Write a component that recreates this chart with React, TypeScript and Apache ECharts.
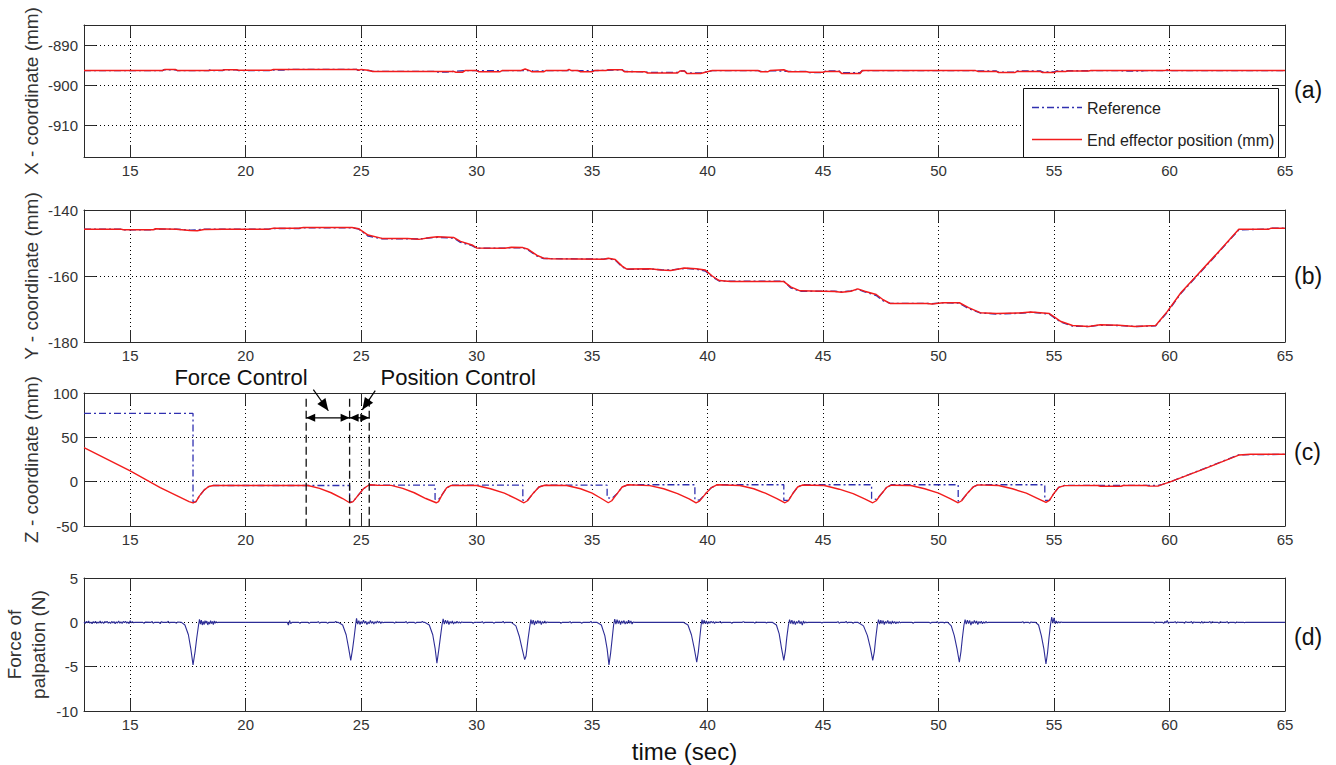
import React, { useEffect, useRef } from 'react';
import * as echarts from 'echarts';

// ---------- tick labels ----------
const xTicks = [15, 20, 25, 30, 35, 40, 45, 50, 55, 60, 65];
const aTicks = [-910, -900, -890];
const bTicks = [-180, -160, -140];
const cTicks = [-50, 0, 50, 100];
const dTicks = [-10, -5, 0, 5];

// ---------- (a) X-coordinate ----------
const xRef = [
  [13, -896.4], [16.4, -896.4], [16.45, -896.2], [16.95, -896.2], [17.05, -896.4], [18.4, -896.4], [18.45, -896.2], [18.55, -896.4],
  [19.0, -896.4], [19.05, -896.2], [19.6, -896.2], [19.7, -896.4], [21.1, -896.4], [21.15, -896.25], [21.8, -896.25], [21.85, -896.1],
  [24.8, -896.1], [24.85, -896.3], [25.0, -896.3], [25.1, -896.35], [25.4, -896.4], [25.5, -896.6], [28.2, -896.6], [28.25, -896.75],
  [28.7, -896.75], [29.0, -896.6], [29.5, -896.4], [30.0, -896.4], [30.05, -896.45], [31.0, -896.45], [31.1, -896.4], [32.4, -896.4],
  [32.45, -896.6], [33.0, -896.4], [34.4, -896.4], [34.45, -896.45], [35.0, -896.45], [35.1, -896.4], [36.3, -896.2], [36.4, -896.6],
  [37.3, -896.7], [37.4, -896.85], [38.7, -896.85], [38.8, -896.5], [39.0, -896.5], [39.1, -897.0], [39.7, -897.0], [40.2, -896.4],
  [42.2, -896.4], [42.3, -896.6], [42.6, -896.6], [42.7, -896.4], [43.5, -896.6], [44.3, -896.6], [44.4, -896.9], [45.0, -896.9],
  [45.1, -896.5], [45.7, -896.5], [45.8, -896.9], [46.6, -896.9], [46.7, -896.4], [51.6, -896.4], [51.7, -896.5], [52.5, -896.5],
  [52.6, -896.8], [53.3, -896.8], [53.4, -896.5], [54.4, -896.5], [54.5, -896.75], [55.0, -896.75], [55.1, -896.5], [55.5, -896.5],
  [55.6, -896.45], [56.5, -896.45], [56.6, -896.4], [57.9, -896.4], [58.0, -896.5], [58.8, -896.5], [58.9, -896.4], [65, -896.4],
];
const xPos = [
  [13, -896.4], [16.4, -896.4], [16.5, -896.1], [16.95, -896.1], [17.05, -896.4], [18.4, -896.4], [18.5, -896.3], [19.0, -896.3],
  [19.1, -896.2], [19.6, -896.2], [19.7, -896.3], [21.1, -896.3], [21.2, -896.1], [24.8, -896.1], [24.9, -896.3], [25.0, -896.1],
  [25.3, -896.3], [25.5, -896.6], [29.0, -896.6], [29.1, -896.8], [29.4, -896.8], [29.5, -896.4], [30.0, -896.4], [30.1, -896.7],
  [31.0, -896.7], [31.1, -896.4], [31.9, -896.4], [32.1, -896.0], [32.3, -896.4], [32.4, -896.7], [32.9, -896.7], [33.0, -896.4],
  [33.9, -896.4], [34.0, -896.1], [34.1, -896.4], [34.4, -896.4], [34.5, -896.7], [35.0, -896.7], [35.1, -896.4], [35.6, -896.4],
  [35.7, -896.2], [36.3, -896.2], [36.4, -896.7], [37.3, -896.7], [37.4, -897.0], [38.7, -897.0], [38.8, -896.5], [39.0, -896.5],
  [39.1, -897.1], [39.7, -897.1], [39.9, -896.8], [40.2, -896.4], [42.2, -896.4], [42.3, -896.7], [42.6, -896.7], [42.7, -896.4],
  [43.3, -896.2], [43.5, -896.7], [44.3, -896.7], [44.4, -896.8], [45.0, -896.8], [45.1, -896.6], [45.7, -896.6], [45.8, -897.1],
  [46.6, -897.1], [46.7, -896.4], [51.6, -896.4], [51.7, -896.6], [52.5, -896.6], [52.6, -896.9], [53.3, -896.9], [53.4, -896.6],
  [54.4, -896.6], [54.5, -896.9], [55.0, -896.9], [55.1, -896.6], [55.5, -896.6], [55.6, -896.5], [56.5, -896.5], [56.6, -896.4],
  [59.8, -896.4], [59.9, -896.2], [60.0, -896.4], [65, -896.4],
];

// ---------- (b) Y-coordinate ----------
const yRef = [
  [13, -145.8], [14.6, -145.8], [14.7, -146.0], [16.0, -146.0], [16.1, -145.8], [17.0, -145.8], [17.6, -146.1], [17.9, -146.0],
  [18.2, -145.8], [21.0, -145.8], [21.2, -145.6], [22.3, -145.6], [22.5, -145.4], [24.6, -145.4], [24.9, -145.8], [25.3, -147.9],
  [25.9, -148.7], [27.0, -148.7], [27.5, -148.8], [28.0, -148.4], [28.3, -148.3], [29.0, -148.5], [29.3, -149.8], [29.8, -150.8],
  [30.0, -151.6], [31.2, -151.6], [31.5, -151.4], [32.0, -151.5], [32.2, -152.0], [32.6, -153.9], [32.9, -154.7], [35.5, -154.9],
  [35.7, -154.7], [36.0, -155.2], [36.3, -157.2], [36.5, -158.0], [37.5, -157.9], [38.0, -158.1], [38.4, -158.2], [39.0, -157.7],
  [39.5, -157.9], [39.9, -158.5], [40.2, -160.3], [40.5, -161.5], [41.0, -161.6], [43.3, -161.6], [43.6, -163.6], [44.0, -164.6],
  [45.5, -164.6], [45.8, -164.8], [46.2, -164.5], [46.5, -164.0], [46.8, -164.8], [47.3, -165.9], [47.6, -167.5], [47.9, -168.3],
  [49.5, -168.3], [49.7, -168.4], [50.2, -168.1], [50.9, -168.2], [51.3, -169.9], [51.8, -171.2], [52.5, -171.5], [53.5, -171.3],
  [54.0, -171.0], [54.4, -171.2], [54.8, -171.6], [55.3, -174.0], [55.8, -175.2], [56.5, -175.3], [57.0, -174.9], [57.8, -175.0],
  [58.5, -175.3], [59.4, -175.1], [59.9, -171.0], [60.5, -165.2], [61.2, -159.9], [62.0, -153.8], [63.0, -146.0], [64.3, -145.8],
  [64.4, -145.5], [65, -145.5],
];
const yPos = [
  [13, -145.8], [14.6, -145.8], [14.7, -146.0], [16.0, -146.0], [16.1, -145.7], [17.0, -145.8], [17.6, -146.2], [17.9, -146.3],
  [18.2, -145.9], [19.0, -145.8], [21.0, -145.8], [21.2, -145.5], [22.3, -145.5], [22.5, -145.3], [24.6, -145.3], [24.9, -145.7],
  [25.3, -147.6], [25.9, -148.6], [27.0, -148.6], [27.5, -148.9], [28.0, -148.3], [28.3, -148.1], [29.0, -148.3], [29.3, -149.5],
  [29.8, -150.6], [30.0, -151.5], [31.2, -151.6], [31.5, -151.3], [32.0, -151.4], [32.2, -151.8], [32.6, -153.7], [32.9, -154.6],
  [33.2, -154.8], [35.5, -154.9], [35.7, -154.6], [36.0, -155.0], [36.3, -157.0], [36.5, -157.9], [37.5, -157.8], [38.0, -158.2],
  [38.4, -158.3], [39.0, -157.6], [39.5, -157.8], [39.9, -158.2], [40.2, -160.0], [40.5, -161.4], [41.0, -161.7], [43.3, -161.7],
  [43.6, -163.3], [44.0, -164.5], [45.5, -164.7], [45.8, -164.9], [46.2, -164.6], [46.5, -163.9], [46.8, -164.6], [47.3, -165.6],
  [47.6, -167.2], [47.9, -168.3], [49.5, -168.3], [49.7, -168.5], [50.2, -168.1], [50.9, -168.1], [51.3, -169.6], [51.8, -171.1],
  [52.5, -171.4], [53.5, -171.2], [54.0, -170.9], [54.4, -171.1], [54.8, -171.4], [55.3, -173.8], [55.8, -175.0], [56.5, -175.3],
  [57.0, -174.8], [57.8, -174.9], [58.5, -175.3], [59.4, -175.0], [59.9, -170.8], [60.5, -165.0], [61.2, -159.7], [62.0, -153.6],
  [63.0, -145.8], [64.3, -145.8], [64.4, -145.5], [65, -145.5],
];

// ---------- (c) Z-coordinate ----------
const zRef = [
  [13, 77], [17.72, 77], [17.72, -23.5], [17.85, -22.5], [18.0, -16], [18.2, -9.5], [18.4, -5.5], [18.6, -4.3], [24.5, -4.3],
  [24.5, -23.5], [24.65, -22.5], [24.85, -16], [25.1, -8], [25.35, -3.8], [28.2, -3.8], [28.2, -20], [28.35, -20], [28.5, -15],
  [28.7, -7], [28.9, -4], [32.0, -4], [32.0, -21], [32.2, -21], [32.45, -13], [32.7, -6], [32.95, -4], [35.65, -4], [35.65, -18],
  [35.85, -19], [36.1, -13], [36.3, -6], [36.55, -3.5], [39.45, -3.5], [39.45, -20], [39.65, -21], [39.9, -14], [40.15, -7],
  [40.4, -3.5], [43.3, -3.5], [43.3, -21], [43.5, -21], [43.7, -13], [43.9, -6], [44.1, -3.5], [47.1, -3.5], [47.1, -19],
  [47.3, -20], [47.55, -13], [47.75, -6.5], [47.95, -3.5], [50.85, -3.5], [50.85, -22], [51.0, -21], [51.25, -13], [51.5, -6],
  [51.7, -3.5], [54.6, -3.5], [54.6, -21], [54.8, -21], [55.0, -13], [55.2, -6.5], [55.45, -4.2], [59.5, -4.2], [59.7, -3],
  [60.0, -0.5], [61.5, 14.8], [63.0, 30.3], [65, 30.8],
];
const zPos = [
  [13, 38.5], [15, 12.1], [16.3, -6.8], [17.55, -22.5], [17.72, -24], [17.85, -22.5], [18.0, -16], [18.2, -9.5], [18.4, -5.5],
  [18.6, -4.3], [22.7, -4.3], [23.2, -7.5], [23.7, -12.5], [24.2, -19], [24.5, -23.8], [24.65, -22.5], [24.85, -16], [25.1, -8],
  [25.35, -3.5], [25.7, -4], [26.3, -4.2], [26.8, -7.5], [27.3, -12.5], [27.8, -19], [28.25, -23.8], [28.35, -22.5], [28.5, -15],
  [28.7, -7], [28.9, -4.3], [30.0, -4.3], [30.6, -8], [31.2, -13], [31.7, -19], [32.05, -23.8], [32.2, -21.5], [32.45, -13],
  [32.7, -6], [32.95, -4], [33.9, -4.3], [34.5, -8], [35.0, -13], [35.4, -19], [35.7, -23.8], [35.85, -21.5], [36.1, -13],
  [36.3, -6], [36.55, -3.5], [37.5, -4.5], [38.1, -8], [38.7, -13.5], [39.2, -19.5], [39.5, -23.8], [39.65, -22], [39.9, -14],
  [40.15, -7], [40.4, -3.5], [41.4, -4.3], [42.0, -8], [42.5, -13], [43.0, -19], [43.35, -23.8], [43.5, -21.5], [43.7, -13],
  [43.9, -6], [44.1, -3.8], [45.05, -4.3], [45.7, -8.5], [46.3, -13.5], [46.8, -19.5], [47.15, -23.8], [47.3, -21.5], [47.55, -13],
  [47.75, -6.5], [47.95, -4], [48.8, -4.3], [49.4, -8], [50.0, -13], [50.5, -19], [50.85, -23.8], [51.0, -21.5], [51.25, -13],
  [51.5, -6], [51.7, -3.6], [52.6, -4.3], [53.2, -8], [53.8, -13], [54.3, -19], [54.65, -23.3], [54.8, -21], [55.0, -13],
  [55.2, -6.5], [55.45, -4.5], [56.9, -4.3], [57.0, -5.2], [57.9, -5.2], [58.0, -4.3], [59.0, -4.3], [59.1, -5], [59.5, -5],
  [59.7, -3], [60.0, -0.5], [61.5, 14.5], [63.0, 30], [63.5, 31], [65, 31],
];

// ---------- (d) Force of palpation ----------
const force = [
  [13.0, 0.05], [13.05, -0.12], [13.1, 0.1], [13.15, -0.05], [13.2, 0.15], [13.25, -0.1], [13.3, 0.02], [13.35, -0.15], [13.4, 0.08],
  [13.45, -0.06], [13.5, 0.12], [13.55, -0.12], [13.6, 0.04], [13.65, -0.08], [13.7, 0.14], [13.75, -0.1], [13.8, 0.06], [13.85, -0.14],
  [13.9, 0.1], [13.95, -0.04], [14.0, 0.12], [14.05, -0.1], [14.1, 0.03], [14.15, -0.12], [14.2, 0.1], [14.25, -0.06], [14.3, 0.08],
  [14.35, -0.15], [14.4, 0.05], [14.45, -0.08], [14.5, 0.14], [14.55, -0.1], [14.6, 0.06], [14.65, -0.12], [14.7, 0.1], [14.75, -0.03],
  [14.8, 0.12], [14.85, -0.1], [14.9, 0.04], [14.95, -0.14], [15.0, 0.18], [15.05, -0.05], [15.1, 0.08], [15.15, -0.06], [15.2, 0],
  [15.55, 0], [15.6, -0.12], [15.65, 0.02], [15.9, 0], [15.95, 0.1], [16.0, -0.1], [16.05, 0], [16.25, 0], [16.3, -0.15], [16.35, 0.08],
  [16.4, 0], [16.6, 0], [16.65, 0.12], [16.7, -0.08], [16.75, 0], [16.95, 0], [17.0, -0.1], [17.05, 0.03],
  [17.22, 0], [17.37, -0.3], [17.52, -1.4], [17.62, -2.9], [17.72, -4.8], [17.81, -3.3], [17.88, -1.8], [17.96, -0.3], [18.0, 0.35],
  [18.04, -0.2], [18.08, 0.25], [18.12, -0.3], [18.16, 0.1], [18.2, -0.25], [18.24, 0.2], [18.28, -0.1], [18.32, 0.15], [18.36, -0.3],
  [18.4, 0.05], [18.44, -0.2], [18.48, 0.2], [18.52, -0.15], [18.56, 0.1], [18.6, -0.25], [18.64, 0.15], [18.68, -0.1], [18.72, 0.1],
  [18.76, -0.05], [18.8, 0],
  [21.8, 0], [21.85, -0.3], [21.9, 0.2], [21.95, -0.15], [22.0, 0],
  [22.3, 0], [22.35, -0.1], [22.4, 0], [22.7, 0], [22.75, -0.12], [22.8, 0], [23.1, 0], [23.15, 0.08], [23.2, -0.1], [23.25, 0],
  [23.5, 0], [23.55, -0.12], [23.6, 0], [23.85, 0], [23.9, 0.1], [23.95, 0],
  [24.0, 0], [24.2, -0.3], [24.35, -1.4], [24.45, -2.8], [24.55, -4.3], [24.63, -3.0], [24.7, -1.6], [24.76, -0.3], [24.8, 0.45],
  [24.85, -0.2], [24.9, 0.2], [24.95, -0.25], [25.0, 0.1], [25.05, -0.15], [25.1, 0.25], [25.15, -0.1], [25.2, 0.12], [25.25, -0.25],
  [25.3, 0.05], [25.35, -0.15], [25.4, 0.2], [25.45, -0.1], [25.5, 0.1], [25.55, -0.2], [25.6, 0.08], [25.65, -0.1], [25.7, 0.15],
  [25.75, -0.05], [25.8, 0.1], [25.85, -0.12], [25.9, 0.05], [25.95, -0.05], [26.0, 0],
  [26.4, 0], [26.45, -0.1], [26.5, 0.05], [26.55, 0], [26.9, 0], [26.95, 0.1], [27.0, -0.1], [27.05, 0], [27.3, 0], [27.35, -0.12],
  [27.4, 0], [27.6, 0], [27.65, 0.1], [27.7, 0],
  [27.75, 0], [27.95, -0.3], [28.1, -1.4], [28.2, -2.9], [28.28, -4.6], [28.36, -3.1], [28.43, -1.7], [28.5, -0.3], [28.55, 0.4],
  [28.6, -0.2], [28.65, 0.25], [28.7, -0.15], [28.75, 0.2], [28.8, -0.25], [28.85, 0.1], [28.9, -0.1], [28.95, 0.15], [29.0, -0.2],
  [29.05, 0.05], [29.1, -0.1], [29.15, 0.12], [29.2, -0.08], [29.25, 0.05], [29.3, -0.1], [29.35, 0.05], [29.4, 0],
  [29.8, 0], [29.85, -0.1], [29.9, 0], [30.2, 0], [30.25, 0.08], [30.3, -0.1], [30.35, 0], [30.7, 0], [30.75, -0.1], [30.8, 0],
  [31.1, 0], [31.15, 0.1], [31.2, -0.08], [31.25, 0],
  [31.5, 0], [31.7, -0.4], [31.85, -1.6], [31.97, -3.0], [32.08, -4.2], [32.14, -3.8], [32.22, -2.0], [32.3, -0.5], [32.35, 0.3],
  [32.4, -0.2], [32.45, 0.25], [32.5, -0.3], [32.55, 0.15], [32.6, -0.15], [32.65, 0.2], [32.7, -0.1], [32.75, 0.15], [32.8, -0.25],
  [32.85, 0.1], [32.9, -0.1], [32.95, 0.15], [33.0, -0.1], [33.05, 0.05], [33.1, 0],
  [33.6, 0], [33.65, -0.1], [33.7, 0], [34.0, 0], [34.05, 0.08], [34.1, -0.08], [34.15, 0], [34.5, 0], [34.55, -0.1], [34.6, 0],
  [34.9, 0], [34.95, 0.1], [35.0, -0.05], [35.05, 0],
  [35.2, 0], [35.4, -0.3], [35.55, -1.5], [35.65, -3.0], [35.73, -4.8], [35.8, -3.5], [35.87, -1.8], [35.93, -0.3], [35.98, 0.35],
  [36.03, -0.2], [36.08, 0.3], [36.13, -0.15], [36.18, 0.2], [36.23, -0.25], [36.28, 0.15], [36.33, -0.1], [36.38, 0.2], [36.43, -0.2],
  [36.48, 0.1], [36.53, -0.15], [36.58, 0.25], [36.63, -0.1], [36.68, 0.15], [36.73, -0.2], [36.78, 0.05], [36.83, 0],
  [38.95, 0], [39.15, -0.3], [39.3, -1.4], [39.42, -2.9], [39.53, -4.5], [39.6, -3.3], [39.66, -1.8], [39.72, -0.3], [39.76, 0.3],
  [39.8, -0.2], [39.85, 0.25], [39.9, -0.15], [39.95, 0.15], [40.0, -0.2], [40.05, 0.1], [40.1, -0.1], [40.15, 0.12], [40.2, -0.05],
  [40.25, 0.08], [40.3, -0.12], [40.35, 0.05], [40.4, 0], [40.5, 0], [40.55, 0.1], [40.6, -0.08], [40.65, 0],
  [41.0, 0], [41.05, -0.1], [41.1, 0], [41.5, 0], [41.55, 0.08], [41.6, 0], [42.0, 0], [42.05, -0.1], [42.1, 0.05], [42.15, 0],
  [42.5, 0], [42.55, -0.08], [42.6, 0],
  [42.8, 0], [42.98, -0.3], [43.1, -1.3], [43.2, -2.9], [43.3, -4.3], [43.37, -3.2], [43.43, -1.7], [43.5, -0.3], [43.55, 0.3],
  [43.6, -0.15], [43.65, 0.25], [43.7, -0.2], [43.75, 0.15], [43.8, -0.25], [43.85, 0.1], [43.9, -0.1], [43.95, 0.2], [44.0, -0.15],
  [44.05, 0.1], [44.1, -0.3], [44.15, 0.15], [44.2, -0.1], [44.25, 0.05], [44.3, -0.05], [44.35, 0],
  [44.9, 0], [44.95, -0.08], [45.0, 0], [45.6, 0], [45.65, 0.08], [45.7, -0.1], [45.75, 0], [45.95, 0], [46.0, 0.1], [46.05, -0.08],
  [46.1, 0], [46.25, 0], [46.3, -0.1], [46.35, 0],
  [46.5, 0], [46.75, -0.4], [46.92, -1.5], [47.05, -2.9], [47.15, -4.3], [47.22, -3.3], [47.28, -1.8], [47.35, -0.3], [47.4, 0.3],
  [47.45, -0.2], [47.5, 0.25], [47.55, -0.15], [47.6, 0.2], [47.65, -0.25], [47.7, 0.1], [47.75, -0.1], [47.8, 0.2], [47.85, -0.15],
  [47.9, 0.1], [47.95, -0.2], [48.0, 0.15], [48.05, -0.1], [48.1, 0.1], [48.15, -0.15], [48.2, 0.05], [48.25, -0.1], [48.3, 0.08],
  [48.35, -0.05], [48.4, 0],
  [48.85, 0], [48.9, -0.1], [48.95, 0],
  [49.6, 0], [49.65, -0.1], [49.7, 0], [49.9, 0], [49.95, 0.08], [50.0, -0.1], [50.05, 0], [50.2, 0], [50.25, -0.08], [50.3, 0],
  [50.4, 0], [50.55, -0.4], [50.68, -1.5], [50.8, -3.0], [50.9, -4.5], [50.97, -3.3], [51.03, -1.8], [51.1, -0.3], [51.15, 0.3],
  [51.2, -0.2], [51.25, 0.25], [51.3, -0.15], [51.35, 0.2], [51.4, -0.3], [51.45, 0.1], [51.5, -0.15], [51.55, 0.2], [51.6, -0.1],
  [51.65, 0.15], [51.7, -0.25], [51.75, 0.1], [51.8, -0.1], [51.85, 0.12], [51.9, -0.15], [51.95, 0.05], [52.0, -0.1], [52.05, 0.1],
  [52.1, -0.05], [52.15, 0],
  [53.6, 0], [53.65, 0.08], [53.7, -0.08], [53.75, 0], [53.9, 0], [53.95, -0.1], [54.0, 0.05], [54.05, 0],
  [54.2, 0], [54.33, -0.3], [54.45, -1.5], [54.56, -3.0], [54.65, -4.7], [54.72, -3.4], [54.78, -1.8], [54.85, -0.2], [54.9, 0.6],
  [54.95, -0.1], [55.0, 0.5], [55.05, -0.15], [55.1, 0.15], [55.15, -0.1], [55.2, 0.08], [55.25, -0.05], [55.3, 0.05], [55.35, 0],
  [59.3, 0], [59.35, -0.1], [59.4, 0.05], [59.45, 0], [59.7, 0], [59.75, -0.12], [59.8, 0.1], [59.85, -0.05], [59.9, 0.2],
  [59.95, -0.1], [60.0, 0], [60.2, 0], [60.25, 0.08], [60.3, -0.1], [60.35, 0.05], [60.4, 0], [60.6, 0], [60.65, -0.1], [60.7, 0.08],
  [60.75, 0], [60.9, 0], [60.95, 0.1], [61.0, -0.12], [61.05, 0.05], [61.1, 0], [61.3, 0], [61.35, -0.08], [61.4, 0.1], [61.45, -0.1],
  [61.5, 0.05], [61.55, 0], [61.7, 0], [61.75, 0.1], [61.8, -0.1], [61.85, 0.08], [61.9, 0], [62.1, 0], [62.15, -0.1], [62.2, 0.08],
  [62.25, 0], [62.45, 0], [62.5, 0.08], [62.55, -0.1], [62.6, 0], [62.8, 0], [62.85, -0.08], [62.9, 0.05], [62.95, 0], [63.2, 0],
  [63.25, -0.06], [63.3, 0], [65, 0],
];

// ---------- annotation anchors (panel c, data coords) ----------
const annVLines = [22.62, 24.5, 25.35];
const annArrowY = 72;

const FONT = "'Liberation Sans', Arial, Helvetica, sans-serif";
const AX = '#2a2a2a';
const LBL = '#333333';
const RED = '#f21c1c';
const BLUE = '#3030b0';
const NAVY = '#2d2d96';

const grids = [
  { left: 84, right: 51, top: 25, height: 132, outerBoundsMode: 'none', containLabel: false },
  { left: 84, right: 51, top: 210, height: 132, outerBoundsMode: 'none', containLabel: false },
  { left: 84, right: 51, top: 393, height: 133, outerBoundsMode: 'none', containLabel: false },
  { left: 84, right: 51, top: 578, height: 133, outerBoundsMode: 'none', containLabel: false },
];

function xAxesFor(gi: number, name?: string) {
  const base: any = {
    type: 'value', gridIndex: gi, min: 13, max: 65,
    axisLine: { show: true, onZero: false, lineStyle: { color: AX, width: 1 } },
    axisTick: { show: true, inside: true, length: 12, customValues: xTicks, lineStyle: { color: AX, width: 1 } },
  };
  return [
    {
      ...base, position: 'bottom',
      axisLabel: { show: true, customValues: xTicks, color: LBL, fontSize: 15, fontFamily: FONT, margin: 6 },
      splitLine: { show: true, lineStyle: { color: '#000', type: [1, 3], width: 1 } },
      ...(name ? { name, nameLocation: 'middle', nameGap: 28, nameMoveOverlap: false, nameTextStyle: { fontSize: 24, color: '#111', fontFamily: FONT } } : {}),
    },
    { ...base, position: 'top', axisLabel: { show: false }, splitLine: { show: false } },
  ];
}

function yAxesFor(gi: number, min: number, max: number, ticks: number[], name: string, gap: number, lh?: number) {
  const base: any = {
    type: 'value', gridIndex: gi, min, max,
    axisLine: { show: true, onZero: false, lineStyle: { color: AX, width: 1 } },
    axisTick: { show: true, inside: true, length: 12, customValues: ticks, lineStyle: { color: AX, width: 1 } },
  };
  return [
    {
      ...base, position: 'left',
      axisLabel: { show: true, customValues: ticks, color: LBL, fontSize: 15, fontFamily: FONT, margin: 6 },
      splitLine: { show: true, lineStyle: { color: '#000', type: [1, 3], width: 1 } },
      name, nameLocation: 'middle', nameGap: gap, nameMoveOverlap: false,
      nameTextStyle: { fontSize: 19, color: LBL, fontFamily: FONT, lineHeight: lh || 22 },
    },
    { ...base, position: 'right', axisLabel: { show: false }, splitLine: { show: false } },
  ];
}

function line(name: string, data: number[][], gi: number, color: string, dash: any, width: number) {
  return {
    type: 'line', name, data, xAxisIndex: gi * 2, yAxisIndex: gi * 2,
    symbol: 'none', showSymbol: false, smooth: false,
    lineStyle: { color, width, type: dash },
    itemStyle: { color },
    emphasis: { disabled: true }, silent: true,
  };
}

const REF = 'Reference';
const POS = 'End effector position (mm)';
const DASHDOT = [7, 3, 2, 3];

const option: any = {
  animation: false,
  backgroundColor: '#ffffff',
  grid: grids,
  xAxis: [...xAxesFor(0), ...xAxesFor(1), ...xAxesFor(2), ...xAxesFor(3, 'time (sec)')],
  yAxis: [
    ...yAxesFor(0, -918, -885, aTicks, 'X - coordinate (mm)', 42),
    ...yAxesFor(1, -180, -140, bTicks, 'Y - coordinate (mm)', 42),
    ...yAxesFor(2, -50, 100, cTicks, 'Z - coordinate (mm)', 42),
    ...yAxesFor(3, -10, 5, dTicks, 'Force of\npalpation (N)', 34, 24),
  ],
  series: [
    line(REF, xRef, 0, BLUE, DASHDOT, 1.4),
    line(POS, xPos, 0, RED, 'solid', 1.5),
    line(REF, yRef, 1, BLUE, DASHDOT, 1.4),
    line(POS, yPos, 1, RED, 'solid', 1.5),
    line(REF, zRef, 2, BLUE, DASHDOT, 1.3),
    line(POS, zPos, 2, RED, 'solid', 1.4),
    line('Force of palpation (N)', force, 3, NAVY, 'solid', 1.1),
  ],
};

function head(tip: number[], from: number[], len = 11, half = 4.5) {
  const dx = tip[0] - from[0];
  const dy = tip[1] - from[1];
  const L = Math.hypot(dx, dy) || 1;
  const ux = dx / L, uy = dy / L;
  const bx = tip[0] - ux * len, by = tip[1] - uy * len;
  return {
    type: 'polygon', z: 100,
    shape: { points: [[tip[0], tip[1]], [bx - uy * half, by + ux * half], [bx + uy * half, by - ux * half]] },
    style: { fill: '#000' },
  };
}

export default function App() {
  const ref = useRef<HTMLDivElement>(null);
  useEffect(() => {
    const chart = echarts.init(ref.current!, null, { renderer: 'svg' });
    chart.setOption(option);
    const P = (t: number, v: number) => chart.convertToPixel({ seriesIndex: 5 }, [t, v]) as number[];
    const g: any[] = [];
    // legend box (panel a)
    const lx = 1023, lyTop = 88, lw = 255, lh = 69;
    g.push({ type: 'rect', z: 90, shape: { x: lx + 0.5, y: lyTop + 0.5, width: lw, height: lh }, style: { fill: '#fff', stroke: '#111', lineWidth: 1 } });
    g.push({ type: 'line', z: 91, shape: { x1: lx + 9, y1: lyTop + 19.5, x2: lx + 59, y2: lyTop + 19.5 }, style: { stroke: BLUE, lineWidth: 1.4, lineDash: DASHDOT } });
    g.push({ type: 'line', z: 91, shape: { x1: lx + 9, y1: lyTop + 51.5, x2: lx + 59, y2: lyTop + 51.5 }, style: { stroke: RED, lineWidth: 1.5 } });
    g.push({ type: 'text', z: 91, x: lx + 64, y: lyTop + 20, style: { text: REF, fontSize: 16, fontFamily: FONT, fill: '#222', align: 'left', verticalAlign: 'middle' } });
    g.push({ type: 'text', z: 91, x: lx + 64, y: lyTop + 52, style: { text: POS, fontSize: 16, fontFamily: FONT, fill: '#222', align: 'left', verticalAlign: 'middle' } });
    // vertical dashed lines
    annVLines.forEach((t) => {
      const a = P(t, 93.5), b = P(t, -50);
      g.push({ type: 'line', z: 100, shape: { x1: a[0], y1: a[1], x2: b[0], y2: b[1] }, style: { stroke: '#111', lineWidth: 1.3, lineDash: [8, 4] } });
    });
    // double arrows
    const segs = [[annVLines[0], annVLines[1]], [annVLines[1], annVLines[2]]];
    segs.forEach(([t1, t2]) => {
      const a = P(t1, annArrowY), b = P(t2, annArrowY);
      g.push({ type: 'line', z: 100, shape: { x1: a[0], y1: a[1], x2: b[0], y2: b[1] }, style: { stroke: '#000', lineWidth: 1.3 } });
      g.push(head(a, b, 9, 4));
      g.push(head(b, a, 9, 4));
    });
    // pointer arrows
    const fcA = P(22.93, 103.7), fcB = P(23.58, 80);
    g.push({ type: 'line', z: 100, shape: { x1: fcA[0], y1: fcA[1], x2: fcB[0], y2: fcB[1] }, style: { stroke: '#000', lineWidth: 1.2 } });
    g.push(head(fcB, fcA, 12, 5));
    const pcA = P(25.61, 102.6), pcB = P(25.05, 81);
    g.push({ type: 'line', z: 100, shape: { x1: pcA[0], y1: pcA[1], x2: pcB[0], y2: pcB[1] }, style: { stroke: '#000', lineWidth: 1.2 } });
    g.push(head(pcB, pcA, 12, 5));
    // texts
    const fcT = P(19.8, 117.3), pcT = P(29.2, 117.3);
    g.push({ type: 'text', z: 100, x: fcT[0], y: fcT[1], style: { text: 'Force Control', fontSize: 22, fontFamily: FONT, fill: '#111', align: 'center', verticalAlign: 'middle' } });
    g.push({ type: 'text', z: 100, x: pcT[0], y: pcT[1], style: { text: 'Position Control', fontSize: 22, fontFamily: FONT, fill: '#111', align: 'center', verticalAlign: 'middle' } });
    // panel letters
    const letters = ['(a)', '(b)', '(c)', '(d)'];
    const ly = [90, 276, 452, 637];
    letters.forEach((s, i) => {
      g.push({ type: 'text', z: 100, x: 1294, y: ly[i], style: { text: s, fontSize: 23, fontFamily: FONT, fill: '#111', align: 'left', verticalAlign: 'middle' } });
    });
    chart.setOption({ graphic: g });
    return () => chart.dispose();
  }, []);
  return <div ref={ref} style={{ position: 'fixed', left: 0, top: 0, width: 1336, height: 765, background: '#fff' }} />;
}
